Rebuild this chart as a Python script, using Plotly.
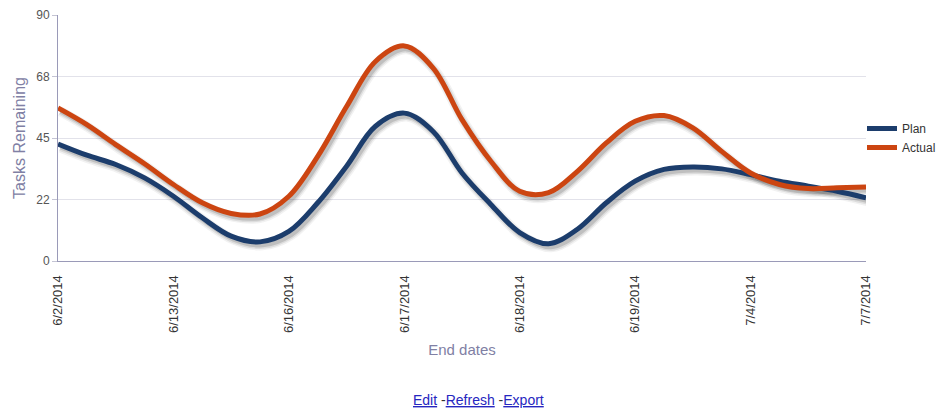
import plotly.graph_objects as go

# Category labels shown on the x axis (one every fourth sample)
date_labels = ["6/2/2014", "6/13/2014", "6/16/2014", "6/17/2014",
               "6/18/2014", "6/19/2014", "7/4/2014", "7/7/2014"]
samples_per_label = 4

# Tasks remaining, sampled at quarter steps between labelled dates
plan = [42.8, 38.7, 35.3, 30.4, 23.7, 15.8, 9.1, 7.0, 10.8, 21.3, 34.7, 49.3,
        54.1, 47.4, 32.2, 20.7, 10.4, 6.3, 11.6, 21.3, 29.2, 33.5, 34.4, 33.7,
        31.6, 29.2, 27.4, 25.5, 23.1]
actual = [56.0, 49.9, 42.6, 35.6, 28.0, 21.3, 17.4, 17.2, 23.7, 38.3, 56.5, 73.0,
          78.7, 70.6, 51.7, 36.5, 25.5, 25.0, 32.8, 43.2, 51.1, 53.2, 48.7, 40.1,
          32.2, 28.0, 26.5, 26.8, 27.1]

y_ticks = [0, 22.5, 45, 67.5, 90]
y_tick_text = ["0", "22", "45", "68", "90"]

PLAN_COLOR = "#1c3d6c"
ACTUAL_COLOR = "#cc4511"
TITLE_COLOR = "#8080a4"
AXIS_COLOR = "#9a9ab8"
FONT = "Liberation Sans, Arial, sans-serif"

W, H = 941, 410
M = dict(l=58, r=75, t=15, b=149)
plot_w = W - M["l"] - M["r"]
plot_h = H - M["t"] - M["b"]

x = [i / samples_per_label for i in range(len(plan))]
x_max = len(date_labels) - 1
y_max = 90

# Drop-shadow offset in pixels, turned into axis-range shifts
sh_dx, sh_dy = 2.5, 3.5
dx = sh_dx * x_max / plot_w
dy = sh_dy * y_max / plot_h

fig = go.Figure()

# empty trace so the visible base axes (grid, ticks, titles) get drawn
fig.add_trace(go.Scatter(x=[None], y=[None], mode="lines",
                         hoverinfo="skip", showlegend=False))

series = [("Plan", plan, PLAN_COLOR), ("Actual", actual, ACTUAL_COLOR)]

# soft shadows underneath the lines
for name, vals, _ in series:
    for width, alpha in [(10, 0.06), (7, 0.10), (4, 0.16)]:
        fig.add_trace(go.Scatter(
            x=x, y=vals, mode="lines", xaxis="x2", yaxis="y2",
            line=dict(color=f"rgba(40,40,40,{alpha})", width=width,
                      shape="spline", smoothing=1.0),
            hoverinfo="skip", showlegend=False))

for name, vals, color in series:
    fig.add_trace(go.Scatter(
        x=x, y=vals, name=name, mode="lines", xaxis="x3", yaxis="y3",
        line=dict(color=color, width=5, shape="spline", smoothing=1.0)))

hidden = dict(visible=False, fixedrange=True)
fig.update_layout(
    width=W, height=H, margin=dict(**M, autoexpand=False),
    paper_bgcolor="white", plot_bgcolor="white",
    font=dict(family=FONT, size=12, color="#333333"),
    xaxis=dict(range=[0, x_max], tickvals=list(range(len(date_labels))),
               ticktext=date_labels, tickangle=-90, showgrid=False,
               zeroline=False, showline=True, linecolor=AXIS_COLOR, linewidth=1,
               ticks="outside", ticklen=8, tickcolor="rgba(0,0,0,0)",
               tickfont=dict(size=13, color="#333333"),
               title=dict(text="End dates", font=dict(size=15, color=TITLE_COLOR),
                          standoff=12)),
    yaxis=dict(range=[0, y_max], tickvals=y_ticks, ticktext=y_tick_text,
               showgrid=True, gridcolor="#e2e2ea", zeroline=False,
               showline=True, linecolor=AXIS_COLOR, linewidth=1,
               ticks="outside", ticklen=5, tickcolor="#c4c4d4",
               tickfont=dict(size=12, color="#555555"),
               title=dict(text="Tasks Remaining",
                          font=dict(size=16, color=TITLE_COLOR), standoff=6)),
    xaxis2=dict(overlaying="x", anchor="y2", range=[-dx, x_max - dx], **hidden),
    yaxis2=dict(overlaying="y", anchor="x2", range=[dy, y_max + dy], **hidden),
    xaxis3=dict(overlaying="x", anchor="y3", range=[0, x_max], **hidden),
    yaxis3=dict(overlaying="y", anchor="x3", range=[0, y_max], **hidden),
    legend=dict(xref="container", yref="container", x=862 / W, y=1 - 138 / H,
                xanchor="left", yanchor="middle", itemwidth=30,
                font=dict(size=12, color="#333333"), bgcolor="rgba(0,0,0,0)"),
    annotations=[dict(
        text=("<span style='color:#2626c0'><u>Edit</u></span> -"
              "<span style='color:#2626c0'><u>Refresh</u></span> -"
              "<span style='color:#2626c0'><u>Export</u></span>"),
        xref="paper", yref="paper", x=(478 - M["l"]) / plot_w,
        y=-(400 - (H - M["b"])) / plot_h, xanchor="center", yanchor="middle",
        showarrow=False, font=dict(size=14, color="#333333"))],
)

fig.write_html("out.html")
